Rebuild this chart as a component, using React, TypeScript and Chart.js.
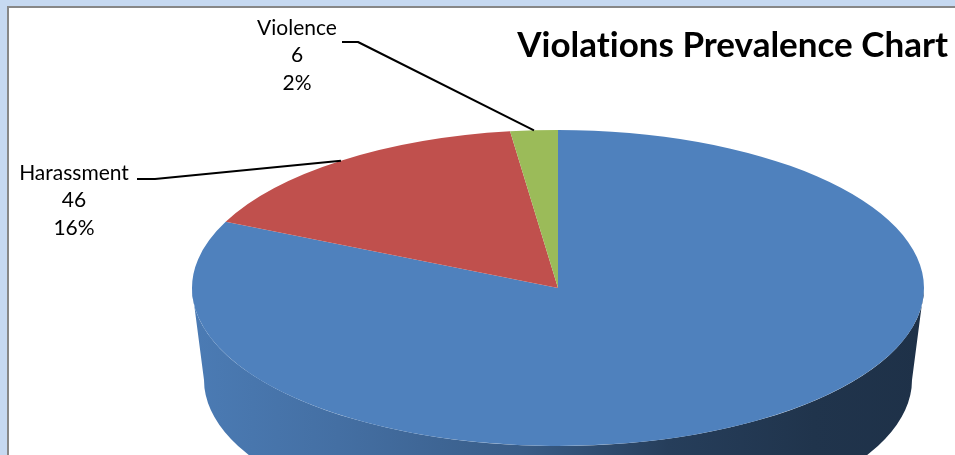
import { useEffect, useRef } from "react";
import { Chart, registerables } from "chart.js";

Chart.register(...registerables);

// ---- data ----
const categories = ["Other", "Harassment", "Violence"];
const counts = [235, 46, 6];
const sliceColors = ["#4f81bd", "#c0504d", "#9bbb59"];
const chartTitle = "Violations Prevalence Chart";

// ---- presentation (not data) ----
const PIE = { cx: 558, cy: 288, rx: 366, ry: 158, depth: 92, brx: 354, bry: 154 };
const LABEL_FONT = "21px Lato";
const LABEL_LINE = 27.5;
// per-slice label boxes (null = outside the visible frame)
const labelBoxes: ({ x: number; y: number; start: [number, number]; elbow: [number, number] } | null)[] = [
  null,
  { x: 74, y: 173, start: [137, 179], elbow: [155, 179] },
  { x: 297, y: 28, start: [342, 42], elbow: [358, 42] },
];

function hexToRgb(h: string) {
  const n = parseInt(h.slice(1), 16);
  return [(n >> 16) & 255, (n >> 8) & 255, n & 255];
}
function shade(h: string, f: number) {
  const [r, g, b] = hexToRgb(h);
  return `rgb(${Math.round(r * f)},${Math.round(g * f)},${Math.round(b * f)})`;
}

const pie3d = {
  id: "pie3d",
  _saved: false,
  beforeDraw(chart: any) {
    const { ctx, width, height } = chart;
    try {
      ctx.textRendering = "optimizeSpeed";
      ctx.fontKerning = "normal";
    } catch (e) {}
    ctx.save();
    ctx.fillStyle = "#c6d9f1";
    ctx.fillRect(0, 0, width, height);
    ctx.fillStyle = "#878787";
    ctx.fillRect(7, 6, width, height);
    ctx.fillStyle = "#ffffff";
    ctx.fillRect(9, 8, width, height);
    ctx.restore();
  },
  beforeDatasetsDraw(chart: any) {
    const meta = chart.getDatasetMeta(0);
    const arcs = meta.data;
    (this as any)._saved = false;
    if (!arcs.length) return;
    const ctx = chart.ctx;
    const { cx, cy, rx, ry, depth, brx, bry } = PIE;
    // side walls (front half only)
    arcs.forEach((arc: any, i: number) => {
      const s = arc.startAngle, e = arc.endAngle;
      for (let k = -1; k <= 1; k++) {
        const off = 2 * Math.PI * k;
        const lo = Math.max(s, off), hi = Math.min(e, Math.PI + off);
        if (hi <= lo) continue;
        const a0 = lo - off, a1 = hi - off;
        const col = sliceColors[i % sliceColors.length];
        const g = ctx.createLinearGradient(cx - rx, 0, cx + rx, 0);
        g.addColorStop(0, shade(col, 0.95));
        g.addColorStop(0.2, shade(col, 0.86));
        g.addColorStop(0.45, shade(col, 0.72));
        g.addColorStop(0.65, shade(col, 0.48));
        g.addColorStop(0.85, shade(col, 0.4));
        g.addColorStop(1, shade(col, 0.38));
        ctx.save();
        ctx.fillStyle = g;
        ctx.beginPath();
        ctx.ellipse(cx, cy, rx, ry, 0, a0, a1, false);
        ctx.ellipse(cx, cy + depth, brx, bry, 0, a1, a0, true);
        ctx.closePath();
        ctx.fill();
        ctx.restore();
      }
    });
    const first = arcs[0];
    const r = first.outerRadius;
    ctx.save();
    ctx.translate(cx, cy);
    ctx.scale(rx / r, ry / r);
    ctx.translate(-first.x, -first.y);
    (this as any)._saved = true;
  },
  afterDatasetsDraw(chart: any) {
    const ctx = chart.ctx;
    if ((this as any)._saved) ctx.restore();
    const meta = chart.getDatasetMeta(0);
    const data = chart.data.datasets[0].data as number[];
    const total = data.reduce((a, b) => a + b, 0);
    const { cx, cy, rx, ry } = PIE;
    meta.data.forEach((arc: any, i: number) => {
      const box = labelBoxes[i];
      if (!box) return;
      const mid = (arc.startAngle + arc.endAngle) / 2;
      const px = cx + rx * Math.cos(mid);
      const py = cy + ry * Math.sin(mid);
      ctx.save();
      ctx.strokeStyle = "#000";
      ctx.lineWidth = 2;
      ctx.lineJoin = "round";
      ctx.beginPath();
      ctx.moveTo(box.start[0], box.start[1]);
      ctx.lineTo(box.elbow[0], box.elbow[1]);
      ctx.lineTo(px, py);
      ctx.stroke();
      ctx.fillStyle = "#000";
      ctx.font = LABEL_FONT;
      ctx.textAlign = "center";
      ctx.textBaseline = "middle";
      const lines = [
        String(chart.data.labels[i]),
        String(data[i]),
        Math.round((data[i] / total) * 100) + "%",
      ];
      lines.forEach((t, j) => ctx.fillText(t, box.x, box.y + j * LABEL_LINE));
      ctx.restore();
    });
  },
};

export default function App() {
  const ref = useRef<HTMLCanvasElement>(null);
  useEffect(() => {
    let chart: Chart | null = null;
    let cancelled = false;
    const make = () => {
      if (cancelled || !ref.current) return;
      chart = new Chart(ref.current, {
        type: "pie",
        data: {
          labels: categories,
          datasets: [
            {
              data: counts,
              backgroundColor: sliceColors,
              borderWidth: 0,
              clip: false as any,
            },
          ],
        },
        options: {
          responsive: false,
          animation: false,
          events: [],
          layout: { padding: { top: 0, right: 7, left: 10, bottom: 10 } },
          plugins: {
            legend: { display: false },
            tooltip: { enabled: false },
            title: {
              display: true,
              text: chartTitle,
              align: "end",
              color: "#000",
              font: { family: "Lato", size: 35, weight: "bold" },
              padding: { top: 25, bottom: 10 },
            },
          },
        },
        plugins: [pie3d as any],
      });
    };
    const fl = (document as any).fonts;
    if (fl && fl.load) {
      Promise.all([fl.load("bold 35px Lato"), fl.load("21px Lato")]).then(make, make);
    } else make();
    return () => {
      cancelled = true;
      if (chart) chart.destroy();
    };
  }, []);
  return (
    <div style={{ position: "fixed", left: 0, top: 0, width: 955, height: 455, overflow: "hidden" }}>
      <canvas ref={ref} width={955} height={455} style={{ display: "block" }} />
    </div>
  );
}
